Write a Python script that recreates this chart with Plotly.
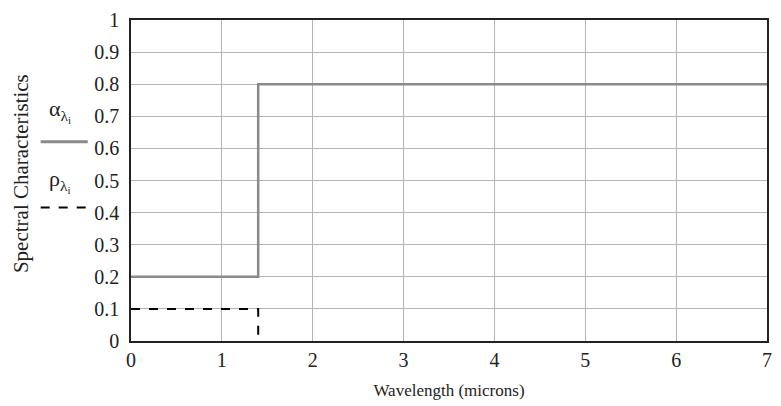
import plotly.graph_objects as go

# Data
alpha_x = [0, 1.4, 1.4, 7]
alpha_y = [0.2, 0.2, 0.8, 0.8]
rho_x = [0, 1.4, 1.4]
rho_y = [0.1, 0.1, 0.0]
x_ticks = [0, 1, 2, 3, 4, 5, 6, 7]
y_ticks = [0, 0.1, 0.2, 0.3, 0.4, 0.5, 0.6, 0.7, 0.8, 0.9, 1]
y_tick_labels = ["0", "0.1", "0.2", "0.3", "0.4", "0.5", "0.6", "0.7", "0.8", "0.9", "1"]

FONT = "Times New Roman"
TICKFONT = dict(family=FONT, size=20, color="#222")

fig = go.Figure()
fig.add_trace(go.Scatter(x=rho_x, y=rho_y, mode="lines",
                         line=dict(color="black", width=2, dash="dash"),
                         showlegend=False, hoverinfo="skip"))
fig.add_trace(go.Scatter(x=alpha_x, y=alpha_y, mode="lines",
                         line=dict(color="#8a8a8a", width=2.5),
                         showlegend=False, hoverinfo="skip"))

fig.update_layout(
    width=781, height=406,
    margin=dict(l=131, r=9, t=14, b=65),
    paper_bgcolor="white", plot_bgcolor="white",
    font=dict(family=FONT, size=20, color="#222"),
    xaxis=dict(range=[0, 7], tickvals=x_ticks, ticktext=[str(v) for v in x_ticks],
               tickfont=TICKFONT,
               showgrid=True, gridcolor="#b5b5b5", gridwidth=1,
               showline=True, linecolor="#222", linewidth=2, mirror=True,
               ticks="", zeroline=False, ticklabelstandoff=0,
               title=dict(text="Wavelength (microns)", font=dict(family=FONT, size=17), standoff=14)),
    yaxis=dict(range=[0, 1], tickvals=y_ticks, ticktext=y_tick_labels,
               tickfont=TICKFONT,
               showgrid=True, gridcolor="#b5b5b5", gridwidth=1,
               showline=True, linecolor="#222", linewidth=1.5, mirror=True,
               ticks="", zeroline=False, ticklabelstandoff=6),
)

# y-axis title
fig.add_annotation(text="Spectral Characteristics", xref="paper", yref="paper",
                   x=-0.173, y=0.523, xanchor="center", yanchor="middle",
                   textangle=-90, showarrow=False,
                   font=dict(family=FONT, size=21, color="#222"))
# legend texts
fig.add_annotation(text="α<sub>λ<sub>i</sub></sub>", xref="paper", yref="paper",
                   x=-0.112, y=0.715, xanchor="center", yanchor="middle", showarrow=False,
                   font=dict(family=FONT, size=22, color="#222"))
fig.add_annotation(text="ρ<sub>λ<sub>i</sub></sub>", xref="paper", yref="paper",
                   x=-0.112, y=0.50, xanchor="center", yanchor="middle", showarrow=False,
                   font=dict(family=FONT, size=22, color="#222"))
# legend line samples
fig.add_shape(type="line", xref="paper", yref="paper",
              x0=-0.142, x1=-0.068, y0=0.621, y1=0.621,
              line=dict(color="#8a8a8a", width=3))
fig.add_shape(type="line", xref="paper", yref="paper",
              x0=-0.142, x1=-0.068, y0=0.416, y1=0.416,
              line=dict(color="black", width=2, dash="dash"))

fig.write_html("out.html")
